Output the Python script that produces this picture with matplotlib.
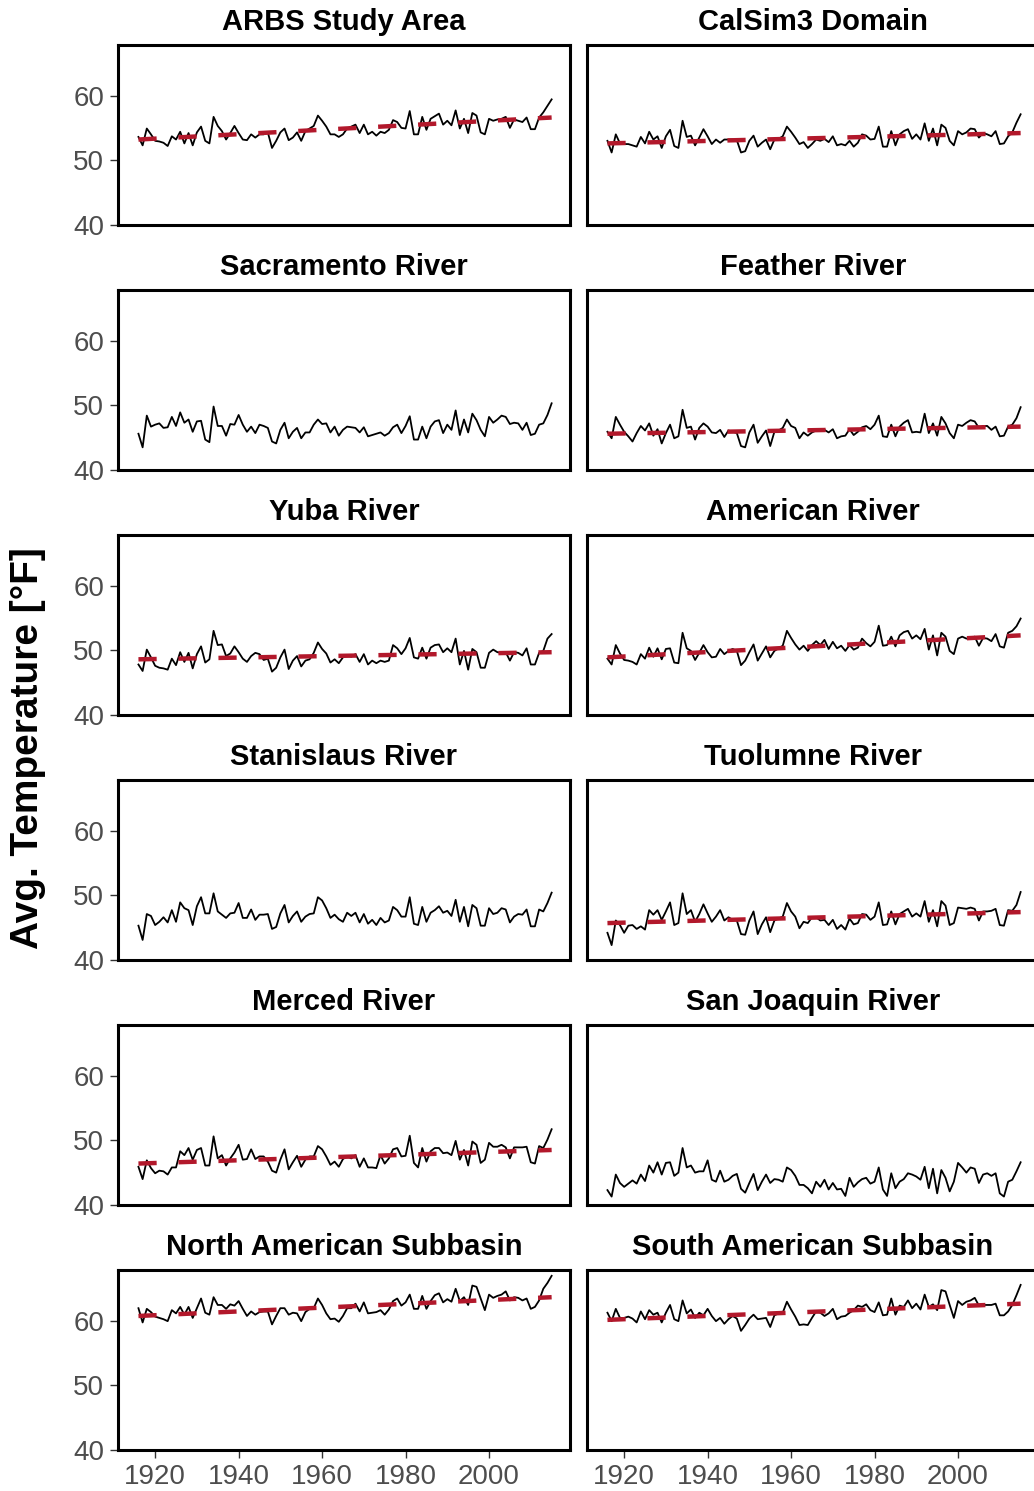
import numpy as np
import matplotlib
matplotlib.use("Agg")
import matplotlib.pyplot as plt

plt.rcParams['font.family'] = ['Liberation Sans', 'DejaVu Sans']

years = np.arange(1916, 2016)

basins = ['ARBS Study Area', 'CalSim3 Domain', 'Sacramento River', 'Feather River',
          'Yuba River', 'American River', 'Stanislaus River', 'Tuolumne River',
          'Merced River', 'San Joaquin River', 'North American Subbasin',
          'South American Subbasin']

arbs = [53.6, 52.3, 54.9, 54.0, 53.0, 52.9, 52.7, 52.2, 53.7, 53.2,
        54.4, 52.6, 54.2, 52.3, 54.3, 55.2, 53.0, 52.6, 56.7, 55.3,
        54.5, 53.2, 54.2, 55.3, 54.2, 53.2, 53.1, 54.0, 53.5, 54.0,
        54.0, 54.3, 51.9, 53.0, 54.3, 54.9, 53.1, 53.5, 54.3, 53.0,
        54.5, 54.9, 55.3, 56.9, 56.1, 55.2, 54.0, 54.0, 53.6, 54.0,
        54.9, 55.2, 55.5, 54.2, 55.5, 54.0, 54.4, 53.8, 54.4, 54.2,
        54.7, 56.2, 55.9, 55.0, 54.9, 57.6, 54.0, 54.0, 56.7, 54.7,
        56.4, 56.8, 57.2, 55.5, 56.1, 55.4, 57.7, 54.9, 56.4, 54.2,
        57.3, 56.9, 54.3, 54.0, 56.4, 56.1, 56.3, 56.4, 56.7, 55.0,
        56.3, 56.1, 55.9, 56.6, 54.8, 54.8, 56.6, 57.4, 58.4, 59.4]

calsim3 = [53.0, 51.2, 54.0, 52.6, 52.5, 52.5, 52.3, 52.1, 53.6, 52.6,
           54.4, 53.2, 53.7, 51.9, 53.7, 54.7, 52.2, 51.9, 56.1, 53.6,
           53.8, 52.3, 53.5, 54.8, 53.7, 52.5, 53.2, 52.7, 53.2, 53.2,
           53.2, 53.1, 51.2, 51.4, 53.0, 53.8, 52.1, 52.7, 53.2, 51.7,
           53.2, 53.3, 53.7, 55.2, 54.4, 53.5, 52.5, 52.8, 51.9, 52.5,
           53.2, 53.0, 53.3, 52.8, 53.7, 52.3, 52.5, 52.3, 53.0, 52.1,
           52.7, 54.0, 53.8, 53.2, 53.3, 55.2, 52.1, 52.1, 54.5, 52.3,
           54.0, 54.5, 54.8, 53.3, 54.0, 53.2, 55.7, 53.0, 54.9, 52.3,
           55.5, 55.0, 53.0, 52.3, 54.5, 54.0, 54.3, 54.9, 54.8, 53.5,
           54.2, 54.0, 53.7, 54.5, 52.5, 52.6, 53.7, 54.3, 55.8, 57.1]

sacramento = [45.6, 43.5, 48.4, 46.7, 47.0, 47.2, 46.5, 46.6, 48.2, 46.8,
              48.9, 47.3, 47.8, 45.9, 47.5, 47.6, 44.7, 44.3, 49.8, 46.8,
              46.8, 45.3, 47.1, 47.0, 48.5, 47.0, 45.9, 46.7, 45.7, 47.0,
              46.8, 46.5, 44.4, 44.1, 46.2, 47.3, 44.9, 45.9, 46.5, 44.9,
              45.8, 45.8, 47.0, 47.8, 47.1, 47.2, 45.8, 46.7, 45.3, 46.2,
              46.7, 46.6, 46.5, 45.8, 46.6, 45.2, 45.4, 45.6, 45.8, 45.3,
              45.7, 46.6, 47.0, 45.7, 46.8, 48.3, 44.7, 44.7, 46.7, 44.9,
              46.7, 47.5, 47.7, 45.7, 47.0, 46.2, 49.2, 45.4, 47.8, 45.8,
              48.7, 47.7, 46.2, 45.2, 48.2, 47.3, 47.8, 48.4, 48.2, 47.1,
              47.3, 47.2, 46.2, 47.3, 45.4, 45.6, 47.0, 47.2, 48.5, 50.3]

feather = [45.9, 44.9, 48.2, 47.0, 45.9, 45.2, 44.4, 45.7, 46.8, 46.1,
           47.2, 45.3, 46.3, 44.1, 45.7, 47.0, 44.9, 45.2, 49.3, 46.5,
           46.7, 44.7, 46.5, 47.2, 46.7, 45.8, 45.7, 46.2, 45.1, 46.1,
           45.9, 45.7, 43.7, 43.5, 45.8, 47.0, 44.2, 45.2, 46.1, 43.7,
           45.9, 46.1, 46.5, 47.8, 46.8, 46.5, 44.9, 45.8, 45.3, 45.8,
           46.1, 46.3, 46.2, 45.8, 46.3, 44.9, 45.2, 45.3, 46.3, 45.4,
           45.9, 46.6, 46.8, 46.3, 47.0, 48.4, 45.2, 45.1, 47.0, 45.2,
           46.7, 47.3, 47.7, 45.8, 45.9, 45.8, 48.7, 45.7, 47.2, 45.3,
           48.2, 47.2, 45.7, 44.9, 47.0, 46.8, 47.3, 47.7, 47.5, 46.5,
           46.8, 46.8, 46.2, 46.7, 45.2, 45.3, 46.7, 47.0, 48.0, 49.7]

yuba = [47.8, 46.8, 50.1, 48.9, 47.6, 47.3, 47.2, 47.0, 48.7, 47.7,
        49.7, 48.2, 49.6, 47.2, 49.4, 50.6, 48.1, 48.6, 53.0, 50.8,
        50.9, 49.1, 49.5, 50.6, 49.7, 48.7, 48.2, 49.1, 49.6, 49.4,
        48.5, 48.7, 46.7, 47.3, 48.9, 50.1, 47.1, 48.4, 49.1, 47.5,
        48.4, 48.6, 49.6, 51.2, 50.2, 49.5, 48.1, 48.6, 48.0, 48.9,
        49.2, 49.0, 49.4, 48.2, 49.4, 47.8, 48.4, 48.0, 48.4, 48.2,
        48.4, 50.8, 50.3, 49.4, 50.3, 51.9, 48.9, 48.7, 50.4, 48.7,
        50.4, 50.8, 50.9, 49.7, 50.3, 49.7, 51.8, 47.8, 49.9, 47.0,
        50.2, 49.7, 47.3, 47.3, 49.6, 50.1, 49.7, 49.6, 49.7, 48.4,
        49.7, 49.6, 49.2, 50.3, 47.8, 47.8, 49.6, 49.9, 51.8, 52.5]

american = [48.7, 47.8, 50.8, 49.5, 48.5, 48.4, 48.2, 47.8, 49.4, 48.7,
            50.4, 49.0, 50.3, 48.6, 50.2, 50.3, 48.1, 48.0, 52.7, 50.3,
            49.9, 48.5, 49.6, 50.8, 49.7, 48.9, 49.0, 50.2, 49.4, 49.9,
            50.2, 49.9, 47.7, 48.4, 49.7, 50.9, 48.4, 49.5, 50.6, 48.9,
            49.9, 50.3, 50.7, 53.0, 51.9, 50.9, 50.1, 50.7, 49.9, 50.8,
            51.4, 50.8, 51.6, 50.2, 51.3, 50.3, 50.7, 49.9, 50.8, 50.1,
            50.4, 51.8, 51.1, 50.6, 51.3, 53.8, 50.7, 50.8, 52.1, 50.6,
            52.3, 52.8, 53.0, 51.8, 52.3, 51.7, 53.3, 50.1, 52.3, 49.2,
            52.7, 52.1, 49.9, 49.4, 51.8, 52.1, 51.8, 51.9, 52.1, 50.7,
            51.9, 51.8, 51.4, 52.5, 50.6, 50.4, 52.7, 53.0, 53.7, 54.9]

stanislaus = [45.3, 43.1, 47.1, 46.8, 45.4, 45.9, 46.6, 45.8, 47.7, 45.9,
              48.9, 48.0, 47.7, 45.4, 48.3, 49.7, 47.2, 47.2, 50.3, 47.5,
              47.0, 46.5, 47.2, 47.3, 48.8, 46.5, 46.5, 47.8, 46.2, 47.0,
              47.0, 47.1, 44.8, 45.1, 47.2, 48.5, 45.8, 46.8, 47.5, 45.9,
              46.7, 47.1, 47.2, 49.7, 49.2, 48.0, 46.5, 47.0, 46.3, 45.9,
              47.3, 46.8, 47.3, 45.8, 47.1, 45.6, 46.2, 45.4, 46.5, 45.8,
              46.1, 48.2, 47.7, 46.7, 46.7, 49.7, 45.6, 45.4, 48.2, 45.9,
              47.3, 47.7, 48.3, 47.3, 47.6, 46.8, 49.3, 45.9, 48.2, 45.2,
              48.5, 48.0, 45.3, 45.3, 48.0, 47.1, 47.3, 48.0, 47.8, 45.8,
              46.7, 47.1, 47.0, 47.8, 45.2, 45.2, 47.8, 47.5, 48.8, 50.4]

tuolumne = [44.2, 42.3, 46.1, 45.4, 44.2, 45.3, 45.4, 44.8, 45.2, 44.7,
            47.7, 47.0, 47.7, 46.2, 47.5, 48.9, 45.4, 45.7, 50.3, 47.1,
            47.7, 45.9, 47.1, 48.6, 47.2, 45.9, 46.7, 47.7, 46.1, 46.6,
            46.2, 46.1, 44.0, 43.9, 46.1, 47.5, 44.0, 45.5, 46.6, 44.3,
            46.1, 46.4, 46.7, 48.8, 47.5, 46.7, 44.9, 45.9, 45.7, 46.6,
            46.6, 46.1, 46.2, 45.4, 46.2, 44.8, 45.4, 44.7, 46.4, 45.5,
            45.7, 47.1, 47.0, 46.2, 46.7, 48.9, 45.4, 45.5, 47.5, 45.5,
            47.1, 47.5, 47.9, 46.7, 47.2, 46.7, 49.1, 45.9, 47.7, 45.2,
            49.1, 48.4, 45.4, 45.7, 48.1, 48.0, 47.9, 48.1, 47.9, 46.1,
            47.5, 47.5, 47.6, 47.9, 45.4, 45.3, 47.7, 47.6, 48.5, 50.5]

merced = [45.9, 44.0, 46.9, 45.7, 44.9, 45.3, 45.2, 44.7, 45.8, 45.8,
          48.3, 47.7, 48.8, 47.0, 48.5, 48.8, 46.1, 46.1, 50.6, 47.2,
          47.7, 46.1, 47.2, 48.1, 49.3, 47.0, 47.1, 48.6, 47.1, 47.5,
          47.5, 46.7, 45.3, 45.0, 47.0, 48.6, 45.5, 46.6, 47.6, 45.9,
          47.0, 47.5, 47.5, 49.1, 48.6, 47.5, 46.2, 46.7, 45.9, 47.1,
          47.5, 47.2, 47.7, 45.9, 47.2, 45.8, 45.8, 45.7, 47.7, 46.4,
          47.2, 48.6, 48.8, 47.5, 47.6, 50.7, 46.5, 45.8, 48.8, 46.7,
          48.3, 48.8, 48.8, 48.0, 48.1, 47.7, 49.9, 47.0, 48.5, 46.1,
          49.8, 49.3, 46.5, 47.0, 49.6, 49.0, 49.0, 49.3, 48.9, 47.2,
          48.9, 48.9, 48.9, 49.0, 46.6, 46.4, 49.1, 48.8, 50.1, 51.7]

san_joaquin = [42.3, 41.3, 44.7, 43.4, 42.8, 43.3, 43.8, 43.3, 44.7, 43.7,
               46.1, 45.0, 46.6, 44.7, 46.5, 46.6, 44.5, 45.0, 48.8, 45.8,
               46.1, 45.0, 45.2, 45.2, 46.9, 43.9, 43.6, 45.3, 43.6, 43.9,
               44.5, 44.8, 42.5, 41.9, 43.4, 44.8, 42.3, 43.6, 44.7, 43.4,
               44.0, 43.9, 43.6, 45.8, 45.4, 44.5, 43.1, 43.1, 42.6, 41.8,
               43.6, 42.8, 43.9, 42.4, 43.4, 42.4, 42.5, 41.4, 44.2, 42.8,
               43.5, 44.0, 44.2, 43.3, 43.6, 45.8, 42.4, 41.4, 44.9, 42.6,
               43.6, 44.0, 44.9, 44.7, 44.4, 43.9, 45.9, 42.6, 45.6, 41.8,
               45.4, 44.2, 42.1, 43.6, 46.5, 45.8, 45.0, 45.8, 45.6, 43.4,
               44.7, 44.9, 44.5, 44.9, 41.8, 41.3, 43.6, 43.9, 45.2, 46.6]

north_american = [61.9, 59.7, 61.8, 61.3, 60.6, 60.4, 60.2, 59.9, 61.6, 61.1,
                  62.1, 60.9, 62.1, 60.4, 61.9, 63.4, 61.2, 60.9, 63.6, 62.4,
                  62.4, 61.8, 62.5, 62.3, 63.0, 61.8, 60.7, 61.4, 60.9, 61.3,
                  61.4, 61.4, 59.4, 60.7, 61.9, 61.9, 60.9, 61.2, 61.1, 59.9,
                  61.3, 61.8, 61.9, 63.4, 62.4, 61.1, 60.2, 60.3, 59.8, 60.7,
                  61.9, 61.9, 62.6, 61.4, 62.8, 61.1, 61.2, 61.3, 61.6, 60.9,
                  61.7, 63.0, 63.4, 62.3, 62.8, 64.0, 61.8, 61.8, 63.8, 61.8,
                  63.0, 63.9, 64.2, 62.8, 63.3, 62.9, 64.9, 63.0, 63.6, 62.4,
                  65.4, 65.2, 63.4, 61.6, 64.0, 63.5, 63.8, 64.0, 64.5, 63.1,
                  63.6, 63.5, 63.1, 63.4, 61.8, 62.1, 63.1, 64.9, 65.8, 66.9]

south_american = [61.2, 59.9, 61.8, 60.4, 60.4, 60.6, 60.3, 59.7, 61.4, 60.2,
                  61.6, 60.9, 61.2, 59.7, 61.2, 62.4, 60.2, 59.9, 63.1, 61.1,
                  61.7, 60.4, 61.2, 60.8, 61.8, 60.7, 59.9, 60.4, 59.5, 60.2,
                  60.7, 60.3, 58.4, 59.3, 60.3, 60.9, 60.2, 60.3, 60.4, 59.0,
                  60.8, 61.1, 61.2, 62.9, 61.7, 60.6, 59.3, 59.4, 59.3, 60.4,
                  61.4, 61.2, 60.7, 61.1, 61.8, 60.2, 60.6, 60.7, 61.2, 61.6,
                  62.3, 62.1, 62.5, 61.6, 61.3, 62.8, 60.8, 60.9, 63.4, 60.9,
                  62.3, 62.1, 63.1, 61.9, 62.6, 61.7, 64.0, 62.1, 62.5, 61.6,
                  64.7, 64.5, 62.4, 60.4, 63.0, 62.4, 62.9, 63.1, 63.5, 62.3,
                  62.4, 62.4, 62.4, 62.6, 60.8, 60.8, 61.4, 62.4, 63.9, 65.5]

series = [arbs, calsim3, sacramento, feather, yuba, american, stanislaus,
          tuolumne, merced, san_joaquin, north_american, south_american]

# trend value at 1916 and 2015, None where no significant trend is drawn
trend_start = [53.2, 52.6, None, 45.6, 48.6, 48.9, None, 45.7, 46.4, None, 60.7, 60.1]
trend_end = [56.6, 54.2, None, 46.7, 49.7, 52.3, None, 47.4, 48.5, None, 63.6, 62.6]

y_ticks = [40, 50, 60]
x_ticks = [1920, 1940, 1960, 1980, 2000]

W, H = 1034, 1491
fig = plt.figure(figsize=(W / 100, H / 100), dpi=100)

for i, name in enumerate(basins):
    row, col = divmod(i, 2)
    left = 118 if col == 0 else 587
    top = 45 + 245 * row
    ax = fig.add_axes([left / W, 1 - (top + 180) / H, 452 / W, 180 / H])

    ax.plot(years, series[i], color='black', lw=1.3)
    if trend_start[i] is not None:
        ax.plot([years[0], years[-1]], [trend_start[i], trend_end[i]],
                color='#b2182b', lw=3.2, dashes=(4.1, 4.9),
                dash_capstyle='butt')

    ax.set_xlim(1911.1, 2019.4)
    ax.set_ylim(40, 67.8)
    ax.set_xticks(x_ticks)
    ax.set_yticks(y_ticks)
    for s in ax.spines.values():
        s.set_linewidth(2.2)
        s.set_color('black')
    ax.tick_params(axis='both', colors='#333333', labelcolor='#4d4d4d',
                   labelsize=20, length=5.5, width=1.0, pad=4.5)
    if col == 1:
        ax.tick_params(axis='y', left=False, labelleft=False)
    if row < 5:
        ax.tick_params(axis='x', bottom=False, labelbottom=False)
    ax.set_title(name, fontsize=21, fontweight='bold', pad=10.5)

fig.text(0.027, 1 - 748 / H, 'Avg. Temperature [°F]', rotation=90,
         ha='center', va='center', fontsize=28, fontweight='bold')

fig.savefig('out.png', dpi=100)
